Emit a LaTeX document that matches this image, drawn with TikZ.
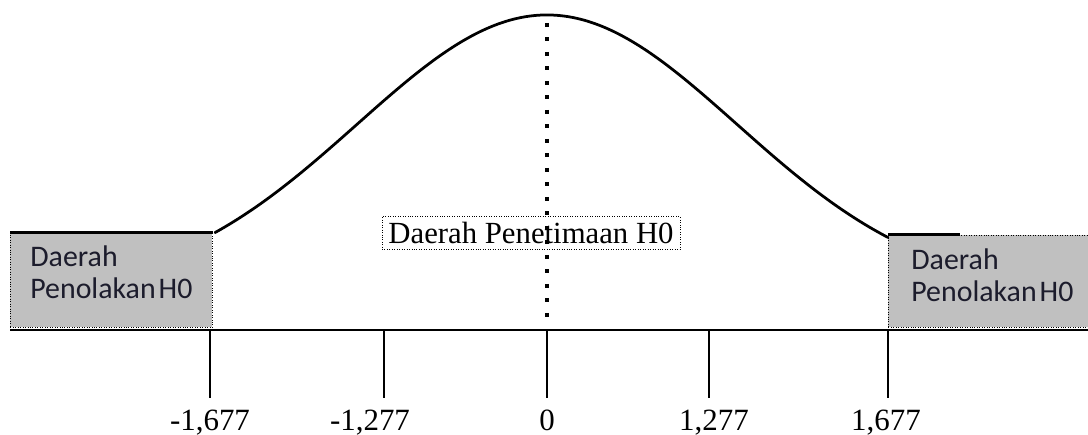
\documentclass[tikz,border=0pt]{standalone}
\usepackage{fontspec}
\setmainfont{Liberation Serif}
\newfontfamily\boxfont{Carlito}
\definecolor{regiongray}{HTML}{C0C0C0}
\definecolor{boxtext}{HTML}{1c1c2c}
\usetikzlibrary{positioning}

\begin{document}
\begin{tikzpicture}[x=0.02cm, y=-0.02cm,
		rejbox/.style={draw=black, densely dotted, fill=regiongray, anchor=north west, inner sep=0pt},
		rejtext/.style={anchor=north west, inner sep=0pt, align=left, text=boxtext, font=\boxfont\fontsize{17}{18.7}\selectfont},
		acceptbox/.style={draw=black, densely dotted, minimum width=5.96cm, minimum height=0.66cm, inner sep=0pt, font=\fontsize{17.5}{20}\selectfont},
		ticklbl/.style={inner sep=0pt, anchor=base, font=\fontsize{17.6}{20}\selectfont},
		topedge/.style={line width=0.06cm},
		axis/.style={line width=0.06cm},
		bell/.style={line width=0.055cm, line cap=round},
		tick/.style={line width=0.025cm},
		meanline/.style={line width=0.08cm, dash pattern=on 0.08cm off 0.21cm}
	]
	\useasboundingbox (0,0) rectangle (1088,435);
	% rejection regions
	\node[rejbox, minimum width=4.04cm, minimum height=1.88cm] (leftrej) at (10,233) {};
	\node[rejbox, minimum width=4.0cm, minimum height=1.84cm] (rightrej) at (888,235) {};
	\node[rejtext] (leftlbl) at (30,245) {Daerah\\Penolakan\hspace{0.1em}H0};
	\node[rejtext] (rightlbl) at (911,248) {Daerah\\Penolakan\hspace{0.1em}H0};
	\draw[topedge] (leftrej.north west) -- (leftrej.north east);
	\draw[topedge] (rightrej.north west) -- ++(72,0);
	% axis
	\coordinate (axl) at (10,330);
	\coordinate (axr) at (1088,330);
	\draw[axis] (axl) -- (axr);
	% bell curve
	\draw[bell] plot[domain=215:888, samples=120, smooth] (\x, {15+278*(1-exp(-0.5*((\x-547)/190)^2))});
	% mean line
	\coordinate (mtop) at (547,23);
	\coordinate (mbot) at (547,322);
	\draw[meanline] (mtop) -- (mbot);
	\node[acceptbox] (accept) at (531,233) {Daerah Penetimaan H0};
	% ticks
	\foreach \x/\lx/\lbl [count=\i] in {210/210/{-1,677}, 384/370/{-1,277}, 547/547/0, 709/714/{1,277}, 888/886/{1,677}} {
			\coordinate (tk\i) at (\x,330);
			\coordinate (tb\i) at (\x,398);
			\draw[tick] (tk\i) -- (tb\i);
			\node[ticklbl] (lbl\i) at (\lx,430) {\lbl};
		}
\end{tikzpicture}
\end{document}
